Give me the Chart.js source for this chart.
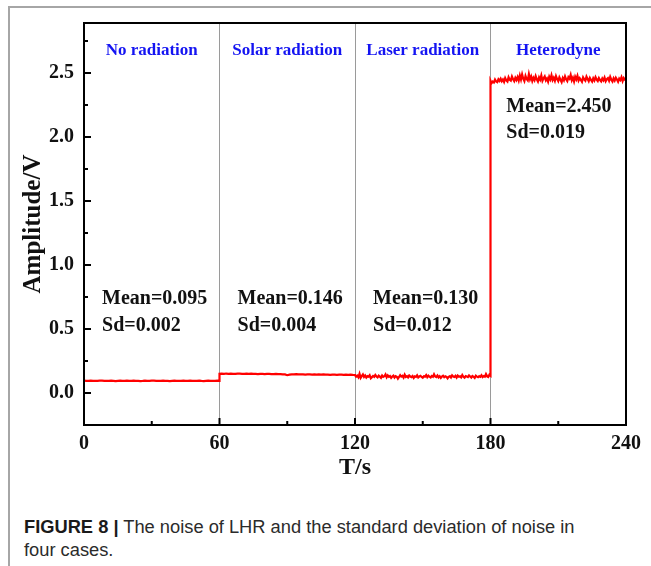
<!DOCTYPE html>
<html>
<head>
<meta charset="utf-8">
<script src="https://cdn.jsdelivr.net/npm/chart.js@4.4.1/dist/chart.umd.min.js"></script>
<style>
  html, body { margin: 0; padding: 0; background: #fff; }
  body { width: 651px; height: 566px; position: relative; overflow: hidden; }
  #frame { position: absolute; left: 8px; top: 6px; width: 700px; height: 600px;
           border-left: 2px solid #a6a6a6; border-top: 2px solid #a6a6a6; }
  #noiseChart { position: absolute; left: 0; top: 0; }
  #caption { position: absolute; left: 24px; top: 515px; font-family: 'Liberation Sans', Arial, sans-serif;
             font-size: 18.3px; line-height: 23px; color: #2b2b2b; }
  #caption b { color: #1a1a1a; }
</style>
</head>
<body>
<div id="frame"></div>
<canvas id="noiseChart" width="651" height="490"></canvas>
<div id="caption"><b>FIGURE 8 |</b> The noise of LHR and the standard deviation of noise in<br>four cases.</div>
<script>
// sumbu
const xTicks = [0, 60, 120, 180, 240];
const xMinor = [30, 90, 150, 210];
const yTicks = [0, 0.5, 1.0, 1.5, 2.0, 2.5];
const yMinor = [0.25, 0.75, 1.25, 1.75, 2.25, 2.75];
const dividers = [60, 120, 180];

// label tiap kondisi
const caseNames = ["No radiation", "Solar radiation", "Laser radiation", "Heterodyne"];
const caseMeans = ["0.095", "0.146", "0.130", "2.450"];
const caseSds = ["0.002", "0.004", "0.012", "0.019"];

// waktu mulai & interval sampling tiap segmen (s)
const segStart = [0, 60, 120, 180];
const segStep = [1, 1, 0.5, 0.5];

// amplitudo (V)
const noRadiation = [
  0.096,0.095,0.094,0.096,0.095,0.095,0.094,0.096,0.097,0.095,
  0.094,0.095,0.096,0.095,0.093,0.095,0.096,0.094,0.095,0.097,
  0.095,0.094,0.096,0.095,0.095,0.093,0.094,0.096,0.095,0.094,
  0.096,0.097,0.095,0.094,0.095,0.096,0.094,0.095,0.093,0.095,
  0.096,0.095,0.094,0.095,0.097,0.095,0.094,0.096,0.095,0.094,
  0.095,0.096,0.094,0.093,0.095,0.096,0.095,0.094,0.095,0.096,
  0.095
];
const solarRadiation = [
  0.150,0.151,0.149,0.152,0.150,0.151,0.149,0.150,0.152,0.151,
  0.150,0.149,0.151,0.150,0.152,0.150,0.149,0.148,0.150,0.149,
  0.148,0.150,0.149,0.148,0.147,0.149,0.148,0.147,0.146,0.145,
  0.139,0.143,0.146,0.145,0.147,0.146,0.145,0.146,0.144,0.145,
  0.146,0.144,0.145,0.143,0.145,0.144,0.146,0.143,0.144,0.142,
  0.144,0.143,0.142,0.144,0.143,0.141,0.143,0.142,0.144,0.142,
  0.141
];
const laserRadiation = [
  0.140,0.128,0.135,0.122,0.150,0.118,0.132,0.145,0.125,0.136,
  0.120,0.131,0.127,0.139,0.115,0.124,0.133,0.126,0.141,0.129,
  0.122,0.135,0.128,0.119,0.137,0.126,0.131,0.145,0.123,0.138,
  0.127,0.133,0.118,0.129,0.136,0.121,0.132,0.127,0.112,0.125,
  0.139,0.128,0.134,0.120,0.143,0.126,0.131,0.122,0.137,0.128,
  0.124,0.133,0.117,0.130,0.126,0.138,0.121,0.129,0.134,0.125,
  0.119,0.131,0.128,0.140,0.123,0.135,0.127,0.121,0.133,0.126,
  0.146,0.129,0.124,0.137,0.122,0.131,0.118,0.128,0.135,0.123,
  0.130,0.126,0.114,0.127,0.132,0.121,0.138,0.129,0.125,0.134,
  0.120,0.136,0.127,0.131,0.122,0.140,0.126,0.119,0.132,0.128,
  0.124,0.137,0.129,0.121,0.133,0.127,0.118,0.135,0.128,0.123,
  0.131,0.126,0.139,0.124,0.132,0.127,0.148,0.130,0.125,0.142,
  0.135
];
const heterodyne = [
  2.440,2.420,2.432,2.425,2.448,2.433,2.428,2.450,2.438,2.455,
  2.435,2.449,2.430,2.460,2.441,2.432,2.466,2.447,2.440,2.472,
  2.451,2.436,2.462,2.445,2.468,2.440,2.480,2.449,2.488,2.455,
  2.436,2.476,2.452,2.441,2.490,2.450,2.472,2.437,2.462,2.444,
  2.475,2.450,2.433,2.465,2.447,2.480,2.439,2.458,2.472,2.442,
  2.456,2.432,2.470,2.449,2.482,2.444,2.462,2.439,2.475,2.452,
  2.436,2.466,2.447,2.428,2.460,2.443,2.473,2.450,2.436,2.467,
  2.455,2.484,2.443,2.463,2.433,2.470,2.450,2.477,2.441,2.459,
  2.446,2.431,2.465,2.450,2.439,2.471,2.453,2.436,2.461,2.445,
  2.432,2.458,2.441,2.467,2.448,2.437,2.460,2.444,2.434,2.457,
  2.442,2.464,2.435,2.451,2.459,2.439,2.469,2.447,2.433,2.458,
  2.440,2.463,2.449,2.431,2.456,2.444,2.467,2.437,2.460,2.448,
  2.452
];

const SERIF = "'Liberation Serif', 'Times New Roman', serif";

// gabung semua segmen jadi titik {x, y}
const segments = [noRadiation, solarRadiation, laserRadiation, heterodyne];
let points = [];
segments.forEach((seg, s) => {
    seg.forEach((v, i) => {
        points.push({ x: segStart[s] + i * segStep[s], y: v });
    });
});

// frame, tick ke dalam, dan anotasi
const overlay = {
    id: 'overlay',
    afterDraw(chart) {
        const ctx = chart.ctx;
        const { left, right, top, bottom } = chart.chartArea;
        const xs = chart.scales.x;
        const ys = chart.scales.y;

        ctx.save();
        ctx.strokeStyle = '#000';
        ctx.lineWidth = 2;
        ctx.strokeRect(left, top, right - left, bottom - top);

        ctx.beginPath();
        yTicks.forEach(v => { const p = ys.getPixelForValue(v); ctx.moveTo(left, p); ctx.lineTo(left + 7, p); });
        yMinor.forEach(v => { const p = ys.getPixelForValue(v); ctx.moveTo(left, p); ctx.lineTo(left + 4, p); });
        xTicks.forEach(v => { const p = xs.getPixelForValue(v); ctx.moveTo(p, bottom); ctx.lineTo(p, bottom - 7); });
        xMinor.forEach(v => { const p = xs.getPixelForValue(v); ctx.moveTo(p, bottom); ctx.lineTo(p, bottom - 4); });
        ctx.stroke();

        // nama kondisi (biru)
        ctx.fillStyle = '#1414f2';
        ctx.font = "bold 17px " + SERIF;
        ctx.textAlign = 'center';
        ctx.textBaseline = 'middle';
        const bounds = [0].concat(dividers, [240]);
        caseNames.forEach((name, i) => {
            const cx = xs.getPixelForValue((bounds[i] + bounds[i + 1]) / 2);
            ctx.fillText(name, cx, ys.getPixelForValue(2.675));
        });

        // mean & sd
        ctx.fillStyle = '#111';
        ctx.font = "bold 20px " + SERIF;
        ctx.textAlign = 'left';
        const textX = [8, 68, 128, 187];
        const meanY = [0.735, 0.735, 0.735, 2.235];
        const sdY = [0.525, 0.525, 0.525, 2.03];
        caseMeans.forEach((m, i) => {
            const px = xs.getPixelForValue(textX[i]);
            ctx.fillText("Mean=" + m, px, ys.getPixelForValue(meanY[i]));
            ctx.fillText("Sd=" + caseSds[i], px, ys.getPixelForValue(sdY[i]));
        });
        ctx.restore();
    }
};

const ctx = document.getElementById('noiseChart').getContext('2d');
new Chart(ctx, {
    type: 'line',
    data: {
        datasets: [{
            data: points,
            borderColor: '#ff0000',
            borderWidth: 2.2,
            pointRadius: 0,
            tension: 0,
            fill: false
        }]
    },
    options: {
        responsive: false,
        animation: false,
        layout: { padding: { top: 23, right: 25, left: 0, bottom: 0 } },
        plugins: { legend: { display: false }, tooltip: { enabled: false } },
        scales: {
            x: {
                type: 'linear',
                min: 0,
                max: 240,
                afterBuildTicks: (scale) => { scale.ticks = xTicks.map(v => ({ value: v })); },
                afterFit: (scale) => { scale.height = 65; },
                border: { display: false },
                grid: {
                    drawTicks: false,
                    lineWidth: 1,
                    color: (c) => dividers.includes(c.tick && c.tick.value) ? '#9a9a9a' : 'rgba(0,0,0,0)'
                },
                ticks: {
                    padding: 7,
                    maxRotation: 0,
                    color: '#111',
                    font: { family: SERIF, size: 20, weight: 'bold' }
                },
                title: {
                    display: true,
                    text: 'T/s',
                    color: '#111',
                    padding: { top: 0, bottom: 7.6 },
                    font: { family: SERIF, size: 24, weight: 'bold' }
                }
            },
            y: {
                min: -0.25,
                max: 2.89,
                afterBuildTicks: (scale) => { scale.ticks = yTicks.map(v => ({ value: v })); },
                afterFit: (scale) => { scale.width = 84; },
                border: { display: false },
                grid: { display: false, drawTicks: false },
                ticks: {
                    padding: 10,
                    color: '#111',
                    font: { family: SERIF, size: 20, weight: 'bold' },
                    callback: (v) => v.toFixed(1)
                },
                title: {
                    display: true,
                    text: 'Amplitude/V',
                    color: '#111',
                    padding: { top: 19, bottom: 0 },
                    font: { family: SERIF, size: 25, weight: 'bold' }
                }
            }
        }
    },
    plugins: [overlay]
});
</script>
</body>
</html>
